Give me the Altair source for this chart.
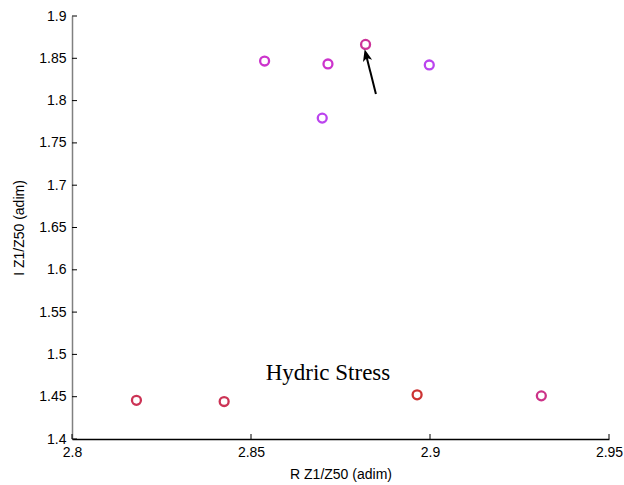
import altair as alt
import pandas as pd

# data
rx = [2.8538, 2.8715, 2.8820, 2.8998, 2.8699, 2.8180, 2.8425, 2.8964, 2.9311]
iy = [1.8468, 1.8433, 1.8664, 1.8421, 1.7793, 1.4457, 1.4443, 1.4522, 1.4510]
colors = ["#cc33cc", "#cc33cc", "#cc3399", "#bb44ee", "#bb44ee",
          "#cc3355", "#cc3355", "#cc3333", "#cc3388"]
ids = list(range(len(rx)))

x_ticks = [2.8, 2.85, 2.9, 2.95]
y_ticks = [1.4, 1.45, 1.5, 1.55, 1.6, 1.65, 1.7, 1.75, 1.8, 1.85, 1.9]

arrow_tail = [2.8849, 1.8078]
arrow_tip = [2.8822, 1.8530]
label_text = ["Hydric Stress"]
label_pos = [2.8541, 1.4697]

W, H = 537, 423

pts = pd.DataFrame({"x": rx, "y": iy, "c": colors, "id": ids})
xs = alt.Scale(domain=[2.8, 2.95], nice=False, zero=False)
ys = alt.Scale(domain=[1.4, 1.9], nice=False, zero=False)

points = alt.Chart(pts).mark_point(filled=False, strokeWidth=2.3, size=80, opacity=1).encode(
    x=alt.X("x:Q", scale=xs,
            axis=alt.Axis(values=x_ticks, format="~g", title="R Z1/Z50 (adim)", grid=False,
                          tickSize=0, labelPadding=6, domainColor="#000000", titlePadding=8,
                          labelFlush=False)),
    y=alt.Y("y:Q", scale=ys,
            axis=alt.Axis(values=y_ticks, format="~g", title="I Z1/Z50 (adim)", grid=False,
                          tickSize=0, labelPadding=6, domainColor="#808080", titlePadding=12,
                          labelFlush=False)),
    color=alt.Color("c:N", scale=None),
    detail="id:N",
)

ytk = alt.Chart(pd.DataFrame({"v": y_ticks})).mark_rule(color="black", strokeWidth=1).encode(
    y=alt.Y("v:Q", scale=ys), x=alt.value(0), x2=alt.value(5))
xtk = alt.Chart(pd.DataFrame({"v": x_ticks})).mark_rule(color="black", strokeWidth=1).encode(
    x=alt.X("v:Q", scale=xs), y=alt.value(H), y2=alt.value(H - 5))

arr = pd.DataFrame({"x": [arrow_tail[0]], "y": [arrow_tail[1]],
                    "x2": [arrow_tip[0]], "y2": [arrow_tip[1]]})
shaft = alt.Chart(arr).mark_rule(color="black", strokeWidth=2).encode(
    x=alt.X("x:Q", scale=xs), y=alt.Y("y:Q", scale=ys), x2="x2:Q", y2="y2:Q")
head = alt.Chart(arr).mark_point(
    shape="M0,-1 L0.7,0.8 L0,0.35 L-0.7,0.8 Z", filled=True, color="black",
    size=180, angle=346, opacity=1).encode(
    x=alt.X("x2:Q", scale=xs), y=alt.Y("y2:Q", scale=ys))

lab = alt.Chart(pd.DataFrame({"t": label_text, "x": [label_pos[0]], "y": [label_pos[1]]})).mark_text(
    font="Liberation Serif", fontSize=23, align="left", baseline="alphabetic", color="black").encode(
    x=alt.X("x:Q", scale=xs), y=alt.Y("y:Q", scale=ys), text="t:N")

chart = alt.layer(points, ytk, xtk, shaft, head, lab).properties(
    width=W, height=H,
    autosize=alt.AutoSizeParams(type="none"),
    padding={"left": 72, "top": 16, "right": 15, "bottom": 46},
).configure_view(stroke=None).configure_axis(
    labelFont="Liberation Sans", titleFont="Liberation Sans", labelFontSize=14,
    titleFontSize=14, titleFontWeight="normal", labelColor="black", titleColor="black",
    domainWidth=1.5,
)

chart.save("out.html", embed_options={"renderer": "svg", "actions": False})
